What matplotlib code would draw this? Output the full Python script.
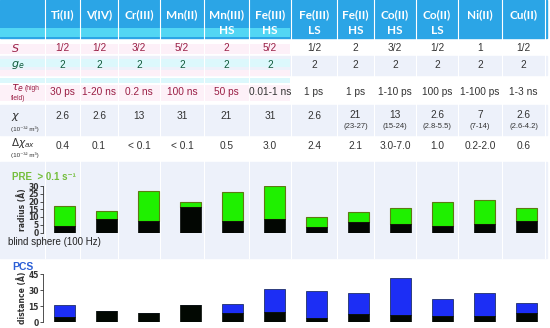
import numpy as np
import matplotlib
matplotlib.use("Agg")
import matplotlib.pyplot as plt
from matplotlib.patches import Rectangle

# table content
ions = ["Ti(II)", "V(IV)", "Cr(III)", "Mn(II)", "Mn(III)\nHS", "Fe(III)\nHS",
        "Fe(III)\nLS", "Fe(II)\nHS", "Co(II)\nHS", "Co(II)\nLS", "Ni(II)", "Cu(II)"]
spin = ["1/2", "1/2", "3/2", "5/2", "2", "5/2", "1/2", "2", "3/2", "1/2", "1", "1/2"]
g_e = ["2", "2", "2", "2", "2", "2", "2", "2", "2", "2", "2", "2"]
tau_e = ["30 ps", "1-20 ns", "0.2 ns", "100 ns", "50 ps", "0.01-1 ns",
         "1 ps", "1 ps", "1-10 ps", "100 ps", "1-100 ps", "1-3 ns"]
chi = ["2.6", "2.6", "13", "31", "21", "31", "2.6", "21", "13", "2.6", "7", "2.6"]
chi_range = ["", "", "", "", "", "", "", "(23-27)", "(15-24)", "(2.8-5.5)", "(7-14)", "(2.6-4.2)"]
dchi_ax = ["0.4", "0.1", "< 0.1", "< 0.1", "0.5", "3.0", "2.4", "2.1", "3.0-7.0", "1.0", "0.2-2.0", "0.6"]

# bar values (Angstrom)
pre_radius = [17, 14, 27, 20, 26, 30, 10, 13.5, 16, 19.5, 21, 16]
pre_blind = [4, 9, 7.5, 16.5, 7.5, 9, 3.3, 7, 5.5, 4.5, 5.5, 7.5]
pcs_distance = [16, 10.5, 8.5, 16, 17, 31, 29, 27, 41, 21.5, 27, 18]
pcs_blind = [5, 10.5, 8.5, 16, 8.5, 9.5, 4, 7.5, 6.5, 5.5, 5.5, 8.5]

W, H = 550, 328
fig = plt.figure(figsize=(5.5, 3.28), dpi=100)
bg = fig.add_axes([0, 0, 1, 1])
bg.set_xlim(0, W)
bg.set_ylim(H, 0)
bg.axis("off")

edges = [45, 80, 118, 160, 204, 249, 291, 337, 374, 416, 458, 502, 545]
centers = [(a + b) / 2 for a, b in zip(edges[:-1], edges[1:])]

blue = "#2ba5e6"
lav = "#edf1fa"
txt = "#333333"
maroon = "#9a1f45"
sans = ["Liberation Sans", "DejaVu Sans"]

# backgrounds
bg.add_patch(Rectangle((0, 0), 547, 38, color=blue, zorder=0))
for y0, y1 in [(56, 75), (105, 135), (162, 258)]:
    bg.add_patch(Rectangle((0, y0), 547, y1 - y0, color=lav, zorder=0))
# compression tint stripes on the left half
for y0, y1, c in [(28, 37, "#52d6f4"), (44, 54, "#fdf0f8"), (59, 67, "#dcf8fc"),
                  (70, 76, "#fdf0f8"), (78, 83, "#dcf8fc"), (85, 101, "#fdf1f8")]:
    bg.add_patch(Rectangle((0, y0), 290, y1 - y0, color=c, zorder=0.5, lw=0))
for e in edges:
    bg.plot([e, e], [0, 258], color="white", lw=0.8, zorder=1)

hfont = dict(family="Lato", fontweight="bold", color="white", fontsize=8.5)
vfont = dict(family=sans, fontsize=7.3, ha="center", va="center", zorder=3)

for i, x in enumerate(centers):
    parts = ions[i].split("\n")
    bg.text(x, 15, parts[0], ha="center", va="center", zorder=3, **hfont)
    if len(parts) > 1:
        bg.text(x, 31, parts[1], ha="center", va="center", zorder=3, **hfont)
    left = x < 290
    bg.text(x, 48, spin[i], color=maroon if left else txt, **vfont)
    bg.text(x, 65, g_e[i], color="#0f5a3a" if left else txt, **vfont)
    bg.text(x, 92, tau_e[i], color=maroon if x < 250 else txt, **vfont)
    if chi_range[i]:
        bg.text(x, 115, chi[i], color=txt, **vfont)
        bg.text(x, 127, chi_range[i], color=txt, family=sans,
                fontsize=5.5, ha="center", va="center")
    else:
        bg.text(x, 116, chi[i], color=txt, **vfont)
    bg.text(x, 146, dchi_ax[i], color=txt, **vfont)

# row labels
bg.text(11, 48, "$S$", color=maroon, fontsize=8, va="center")
bg.text(11, 65, "$g_e$", color="#0f5a3a", fontsize=8, va="center")
bg.text(11, 88, r"$\tau_e$", color=maroon, fontsize=8, va="center")
bg.text(25, 88, "(high", color=maroon, fontsize=4.8, va="center", family=sans)
bg.text(11, 98, "field)", color=maroon, fontsize=4.8, va="center", family=sans)
bg.text(11, 117, r"$\chi$", color=txt, fontsize=8, va="center")
bg.text(11, 129, "(10\u207b\u00b3\u00b2 m\u00b3)", color=txt, fontsize=4.5, va="center",
        family=sans)
bg.text(11, 143, r"$\Delta\chi_{ax}$", color=txt, fontsize=7.5, va="center")
bg.text(11, 155, "(10\u207b\u00b3\u00b2 m\u00b3)", color=txt, fontsize=4.5, va="center",
        family=sans)

bg.text(12, 177, "PRE  > 0.1 s\u207b\u00b9", color="#74be3c", fontsize=7, fontweight="bold",
        va="center", family=sans)
bg.text(8, 242, "blind sphere (100 Hz)", color="#222222", fontsize=7, va="center",
        family=sans)
bg.text(12, 267, "PCS", color="#2b5fd6", fontsize=7.5, fontweight="bold", va="center",
        family=sans)


def px_axes(x0, y0, x1, y1):
    return fig.add_axes([x0 / W, 1 - y1 / H, (x1 - x0) / W, (y1 - y0) / H])


xl = ((43 - 64) / 42, (545 - 64) / 42)
idx = np.arange(len(ions))

ax1 = px_axes(43, 186, 545, 232.5)
ax1.patch.set_alpha(0)
ax1.bar(idx, np.array(pre_radius) - np.array(pre_blind), 0.5, bottom=pre_blind,
        color="#1ff000", edgecolor="#5d7a12", lw=0.8, zorder=2)
ax1.bar(idx, pre_blind, 0.5, color="#020602", edgecolor="#020602", lw=0.5, zorder=3)
ax1.set_xlim(*xl)
ax1.set_ylim(0, 30)
ax1.set_yticks(range(0, 31, 5))
ax1.set_ylabel("radius (\u00c5)", fontsize=5.5, fontweight="bold", labelpad=1, color="#333")

ax2 = px_axes(43, 274, 545, 322)
ax2.patch.set_alpha(0)
ax2.bar(idx, np.array(pcs_distance) - np.array(pcs_blind), 0.5, bottom=pcs_blind,
        color="#1c2ef5", edgecolor="#20306a", lw=0.6, zorder=2)
ax2.bar(idx, pcs_blind, 0.5, color="#020802", edgecolor="#020802", lw=0.5, zorder=3)
ax2.set_xlim(*xl)
ax2.set_ylim(0, 45)
ax2.set_yticks([0, 15, 30, 45])
ax2.set_ylabel("distance (\u00c5)", fontsize=5.5, fontweight="bold", labelpad=1, color="#333")

for ax in (ax1, ax2):
    for s in ("top", "right", "bottom"):
        ax.spines[s].set_visible(False)
    ax.spines["left"].set_linewidth(0.6)
    ax.spines["left"].set_color("#333")
    ax.set_xticks([])
    ax.tick_params(axis="y", length=2, width=0.6, pad=1, labelsize=5.5, colors="#333")
    for t in ax.get_yticklabels():
        t.set_fontweight("bold")

fig.savefig("out.png", dpi=100)
